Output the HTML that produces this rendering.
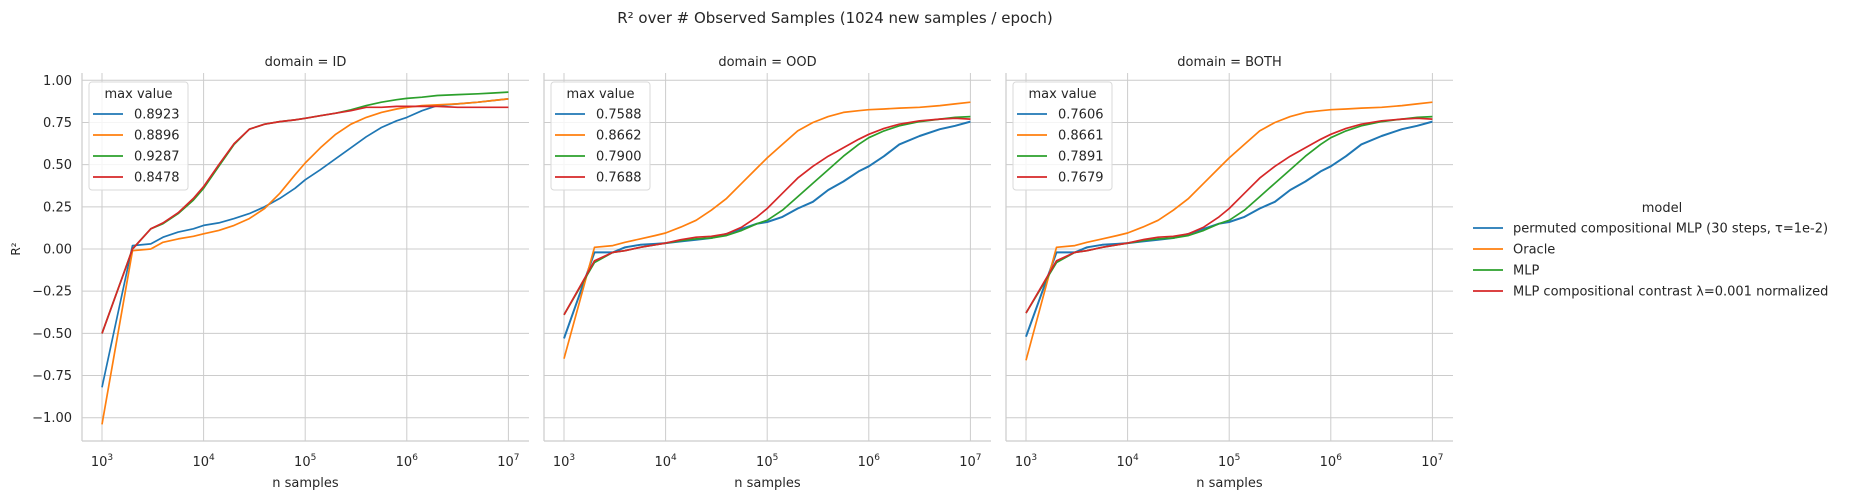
<!DOCTYPE html>
<html><head><meta charset="utf-8"><style>
html,body{margin:0;padding:0;background:#fff;}
svg text{font-family:"DejaVu Sans","Liberation Sans",sans-serif;fill:#262626;}
</style></head><body>
<svg id="fig" width="1863" height="499" xmlns="http://www.w3.org/2000/svg">
<text x="835" y="23" font-size="15" text-anchor="middle">R² over # Observed Samples (1024 new samples / epoch)</text>
<g id="legend">
<text x="1662" y="212" font-size="13" text-anchor="middle">model</text>
</g>
</svg>
<script>
const logX = [3,3.3,3.48,3.6,3.75,3.9,4,4.15,4.3,4.45,4.6,4.75,4.9,5,5.15,5.3,5.45,5.6,5.75,5.9,6,6.15,6.3,6.5,6.7,6.85,7];
const panelNames = ["ID","OOD","BOTH"];
const seriesNames = ["permuted compositional MLP (30 steps, τ=1e-2)","Oracle","MLP","MLP compositional contrast λ=0.001 normalized"];
const colors = ["#1f77b4","#ff7f0e","#2ca02c","#d62728"];
const yTicks = [-1.0,-0.75,-0.5,-0.25,0,0.25,0.5,0.75,1.0];
const xTicks = [3,4,5,6,7];
const maxID = ["0.8923","0.8896","0.9287","0.8478"];
const maxOOD = ["0.7588","0.8662","0.7900","0.7688"];
const maxBOTH = ["0.7606","0.8661","0.7891","0.7679"];
const idBlue = [-0.82,0.02,0.03,0.07,0.10,0.12,0.14,0.155,0.18,0.21,0.25,0.30,0.36,0.41,0.47,0.535,0.60,0.665,0.72,0.76,0.78,0.82,0.85,0.86,0.87,0.88,0.89];
const idOrange = [-1.04,-0.01,0.0,0.04,0.06,0.075,0.09,0.11,0.14,0.18,0.24,0.33,0.44,0.51,0.60,0.68,0.74,0.78,0.81,0.83,0.84,0.85,0.855,0.86,0.87,0.88,0.89];
const idGreen = [-0.5,0.0,0.12,0.15,0.21,0.29,0.36,0.49,0.62,0.71,0.74,0.755,0.765,0.775,0.79,0.805,0.825,0.85,0.87,0.885,0.893,0.90,0.91,0.915,0.92,0.925,0.93];
const idRed = [-0.5,0.0,0.12,0.155,0.215,0.30,0.37,0.50,0.625,0.71,0.74,0.755,0.765,0.775,0.79,0.805,0.82,0.84,0.84,0.845,0.845,0.845,0.845,0.84,0.84,0.84,0.84];
const oodBlue = [-0.53,-0.02,-0.02,0.01,0.025,0.03,0.035,0.045,0.055,0.065,0.09,0.12,0.15,0.16,0.19,0.24,0.28,0.35,0.40,0.46,0.49,0.55,0.62,0.67,0.71,0.73,0.755];
const oodOrange = [-0.65,0.01,0.02,0.04,0.06,0.08,0.095,0.13,0.17,0.23,0.30,0.39,0.48,0.54,0.62,0.70,0.75,0.785,0.81,0.82,0.826,0.83,0.835,0.84,0.85,0.86,0.87];
const oodGreen = [-0.39,-0.08,-0.02,-0.01,0.01,0.025,0.035,0.05,0.06,0.065,0.08,0.11,0.15,0.17,0.23,0.31,0.39,0.47,0.55,0.62,0.66,0.70,0.73,0.755,0.77,0.78,0.785];
const oodRed = [-0.39,-0.07,-0.02,-0.01,0.01,0.025,0.035,0.055,0.07,0.075,0.09,0.13,0.19,0.24,0.33,0.42,0.49,0.55,0.60,0.65,0.68,0.715,0.74,0.76,0.77,0.775,0.77];
const bothBlue = [-0.52,-0.02,-0.02,0.01,0.025,0.03,0.035,0.045,0.055,0.065,0.09,0.12,0.15,0.16,0.19,0.24,0.28,0.35,0.40,0.46,0.49,0.55,0.62,0.67,0.71,0.73,0.755];
const bothOrange = [-0.66,0.01,0.02,0.04,0.06,0.08,0.095,0.13,0.17,0.23,0.30,0.39,0.48,0.54,0.62,0.70,0.75,0.785,0.81,0.82,0.826,0.83,0.835,0.84,0.85,0.86,0.87];
const bothGreen = [-0.38,-0.08,-0.02,-0.01,0.01,0.025,0.035,0.05,0.06,0.065,0.08,0.11,0.15,0.17,0.23,0.31,0.39,0.47,0.55,0.62,0.66,0.70,0.73,0.755,0.77,0.78,0.785];
const bothRed = [-0.38,-0.07,-0.02,-0.01,0.01,0.025,0.035,0.055,0.07,0.075,0.09,0.13,0.19,0.24,0.33,0.42,0.49,0.55,0.60,0.65,0.68,0.715,0.74,0.76,0.77,0.775,0.77];

const panelSeries = [[idBlue,idOrange,idGreen,idRed],[oodBlue,oodOrange,oodGreen,oodRed],[bothBlue,bothOrange,bothGreen,bothRed]];
const panelMax = [maxID,maxOOD,maxBOTH];
const NS = "http://www.w3.org/2000/svg";
const svg = document.getElementById('fig');
function mk(tag, attrs, parent){const e=document.createElementNS(NS,tag);for(const k in attrs)e.setAttribute(k,attrs[k]);(parent||svg).appendChild(e);return e;}
const AX_TOP=73, AX_BOT=441, PW=447, OFFS=[82,544,1006];
function yPix(v){return 249 - v*168.7;}
function xPix(p,l){return OFFS[p]+20+(l-3)*101.6;}

panelNames.forEach((nm,p)=>{
  const g=mk('g',{});
  
  
  const L=OFFS[p], R=L+PW;
  yTicks.forEach(t=>{
    const ln=mk('line',{x1:L,x2:R,y1:yPix(t),y2:yPix(t),stroke:'#cccccc','stroke-width':1},g);
    
    
    if(p===0){
      const tx=mk('text',{x:72,y:yPix(t)+4.5,'font-size':13,'text-anchor':'end'},g);
      
      
      tx.textContent=(t<0?'\u2212':'')+Math.abs(t).toFixed(2);
    }
  });
  xTicks.forEach(t=>{
    const x=xPix(p,t);
    const ln=mk('line',{x1:x,x2:x,y1:AX_TOP,y2:AX_BOT,stroke:'#cccccc','stroke-width':1},g);
    
    
    const tx=mk('text',{x:x,y:466,'font-size':13,'text-anchor':'middle'},g);
    
    
    tx.innerHTML='10<tspan dy="-6" font-size="9">'+t+'</tspan>';
  });
  const sp1=mk('line',{x1:L,x2:L,y1:AX_TOP,y2:AX_BOT,stroke:'#cccccc','stroke-width':1.2},g);
  
  
  const sp2=mk('line',{x1:L,x2:R,y1:AX_BOT,y2:AX_BOT,stroke:'#cccccc','stroke-width':1.2},g);
  
  
  const tt=mk('text',{x:(L+R)/2,y:66,'font-size':13,'text-anchor':'middle'},g);
  
  
  tt.textContent='domain = '+nm;
  const xl=mk('text',{x:(L+R)/2,y:487,'font-size':13,'text-anchor':'middle'},g);
  
  
  xl.textContent='n samples';
  panelSeries[p].forEach((vals,s)=>{
    const pts=vals.map((v,i)=>xPix(p,logX[i]).toFixed(1)+','+yPix(v).toFixed(1)).join(' ');
    const pl=mk('polyline',{points:pts,fill:'none',stroke:colors[s],'stroke-width':(s===0&&p>0)?2:1.7,'stroke-linejoin':'round'},g);
    
    
  });
  // max value legend
  const lg=mk('g',{},g);
  
  
  const bx=L+7;
  mk('rect',{x:bx,y:82,width:99,height:108,rx:3,fill:'#fff','fill-opacity':0.8,stroke:'#d9d9d9','stroke-width':1},lg);
  const lt=mk('text',{x:bx+49.5,y:98,'font-size':13,'text-anchor':'middle'},lg);
  
  
  lt.textContent='max value';
  panelMax[p].forEach((m,s)=>{
    const yy=114+s*21;
    const ll=mk('line',{x1:bx+4,x2:bx+34,y1:yy,y2:yy,stroke:colors[s],'stroke-width':1.8},lg);
    
    
    const t=mk('text',{x:bx+45,y:yy+4.5,'font-size':13},lg);
    
    
    t.textContent=m;
  });
});
const yl=mk('text',{x:20,y:249,'font-size':12,'text-anchor':'middle',transform:'rotate(-90 20 249)'});


yl.textContent='R²';
const leg=document.getElementById('legend');
seriesNames.forEach((n,s)=>{
  const yy=228+s*21;
  const ll=mk('line',{x1:1473,x2:1503,y1:yy,y2:yy,stroke:colors[s],'stroke-width':1.8},leg);
  
  
  const t=mk('text',{x:1513,y:yy+4.5,'font-size':13},leg);
  
  
  t.textContent=n;
});
</script>
</body></html>
